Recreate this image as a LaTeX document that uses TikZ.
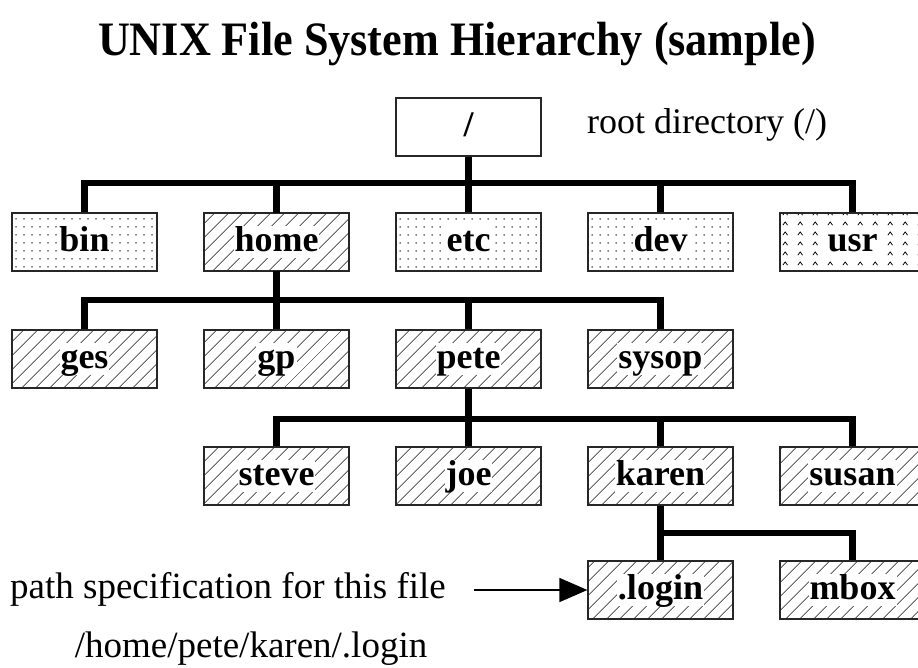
\documentclass[tikz,border=0pt]{standalone}
\usepackage{fontspec}
\setmainfont{Liberation Serif}
\usetikzlibrary{patterns.meta,arrows.meta}
\tikzdeclarepattern{name=carets, type=uncolored,
  bounding box={(0pt,0pt) and (15pt,10pt)}, tile size={(15pt,10pt)},
  code={\draw[line width=0.8pt] (3pt,2pt) -- (5.5pt,5.5pt) -- (8pt,2pt);}}
\tikzset{
  dirbox/.style={draw=black!85, line width=1.2pt, minimum width=145pt, minimum height=58pt, inner sep=0pt},
  dotfill/.style={pattern={Dots[distance=8pt,radius=0.75pt]}, pattern color=black},
  hatchfill/.style={pattern={Lines[angle=45,distance=10.5pt,line width=0.8pt]}, pattern color=black!90},
  caretfill/.style={pattern=carets, pattern color=black},
  lbl/.style={fill=white, inner sep=1pt, text height=24pt, text depth=6pt, font=\fontsize{36}{40}\selectfont\bfseries},
  bus/.style={line width=6.5pt, line join=miter},
  plain/.style={font=\fontsize{36}{40}\selectfont, inner sep=0pt},
}
\begin{document}
\begin{tikzpicture}[x=1pt,y=-1pt]
\fill[white] (0,0) rectangle (918,667);
\useasboundingbox (0,0) rectangle (918,667);

% title
\node[font=\fontsize{48}{56}\selectfont\bfseries, anchor=base, inner sep=0pt] (title) at (457,55) {\scalebox{0.92}[1]{UNIX File System Hierarchy (sample)}};

% root
\node[dirbox, label={[lbl]center:/}] (root) at (468.5,127) {};
\node[plain, anchor=base west] (rootlbl) at (587,133) {root directory (/)};

% row 1
\node[dirbox, dotfill, label={[lbl]center:bin}] (bin) at (84.5,242) {};
\node[dirbox, hatchfill, label={[lbl]center:home}] (home) at (276.5,242) {};
\node[dirbox, dotfill, label={[lbl]center:etc}] (etc) at (468.5,242) {};
\node[dirbox, dotfill, label={[lbl]center:dev}] (dev) at (660.5,242) {};
\node[dirbox, caretfill, label={[lbl]center:usr}] (usr) at (852.5,242) {};

% row 2
\node[dirbox, hatchfill, label={[lbl]center:ges}] (ges) at (84.5,359) {};
\node[dirbox, hatchfill, label={[lbl]center:gp}] (gp) at (276.5,359) {};
\node[dirbox, hatchfill, label={[lbl]center:pete}] (pete) at (468.5,359) {};
\node[dirbox, hatchfill, label={[lbl]center:sysop}] (sysop) at (660.5,359) {};

% row 3
\node[dirbox, hatchfill, label={[lbl]center:steve}] (steve) at (276.5,476) {};
\node[dirbox, hatchfill, label={[lbl]center:joe}] (joe) at (468.5,476) {};
\node[dirbox, hatchfill, label={[lbl]center:karen}] (karen) at (660.5,476) {};
\node[dirbox, hatchfill, label={[lbl]center:susan}] (susan) at (852.5,476) {};

% row 4
\node[dirbox, hatchfill, label={[lbl]center:.login}] (login) at (660.5,590) {};
\node[dirbox, hatchfill, label={[lbl]center:mbox}] (mbox) at (852.5,590) {};

% bus coordinates
\coordinate (b1) at (0,183);
\coordinate (b2) at (0,300);
\coordinate (b3) at (0,419);
\coordinate (b4) at (0,533);

% connectors
\draw[bus] (root.south) -- (etc.north);
\draw[bus] (bin.north) |- (usr.north |- b1) -- (usr.north);
\draw[bus] (home.north) -- (home.north |- b1);
\draw[bus] (dev.north) -- (dev.north |- b1);

\draw[bus] (home.south) -- (gp.north);
\draw[bus] (ges.north) |- (sysop.north |- b2) -- (sysop.north);
\draw[bus] (pete.north) -- (pete.north |- b2);

\draw[bus] (pete.south) -- (joe.north);
\draw[bus] (steve.north) |- (susan.north |- b3) -- (susan.north);
\draw[bus] (karen.north) -- (karen.north |- b3);

\draw[bus] (karen.south) -- (login.north);
\draw[bus] (login.north |- b4) -| (mbox.north);

% annotations
\node[plain, font=\fontsize{37}{40}\selectfont, anchor=base west] (pathlbl) at (10,598) {path specification for this file};
\draw[line width=1.5pt, -{Triangle[length=28pt,width=24pt]}, shorten <=28pt] (pathlbl.east |- login.west) -- (login.west);
\node[plain, font=\fontsize{37}{40}\selectfont, anchor=base] (fullpath) at (251,657) {/home/pete/karen/.login};
\end{tikzpicture}
\end{document}
